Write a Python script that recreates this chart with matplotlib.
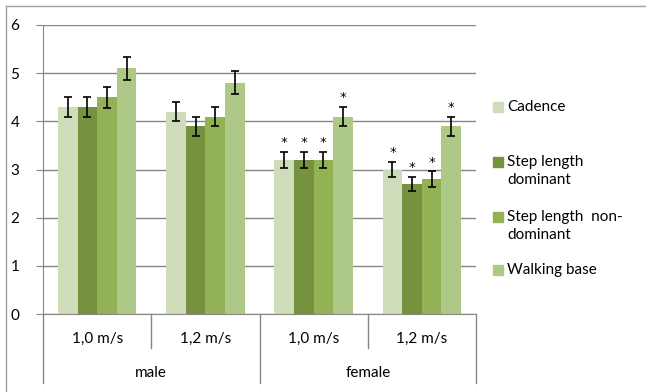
import numpy as np
import matplotlib
matplotlib.use("Agg")
from matplotlib import pyplot as plt
from matplotlib.patches import Rectangle
from matplotlib.lines import Line2D
import matplotlib.transforms as mtransforms

plt.rcParams['font.family'] = ['Lato', 'DejaVu Sans']

speeds = ['1,0 m/s', '1,2 m/s', '1,0 m/s', '1,2 m/s']
sexes = ['male', 'female']
series = ['Cadence', 'Step length\ndominant', 'Step length  non-\ndominant', 'Walking base']

cadence = [4.3, 4.2, 3.2, 3.0]
step_dom = [4.3, 3.9, 3.2, 2.7]
step_nondom = [4.5, 4.1, 3.2, 2.8]
walking = [5.1, 4.8, 4.1, 3.9]

err_cadence = [0.2, 0.2, 0.17, 0.16]
err_dom = [0.2, 0.2, 0.17, 0.14]
err_nondom = [0.22, 0.2, 0.17, 0.16]
err_walking = [0.24, 0.24, 0.2, 0.2]

# asterisk = significant difference (female groups)
sig_cadence = [False, False, True, True]
sig_dom = [False, False, True, True]
sig_nondom = [False, False, True, True]
sig_walking = [False, False, True, True]

colors = ['#CFDCB9', '#77923F', '#93B255', '#AEC887']

values = [cadence, step_dom, step_nondom, walking]
errors = [err_cadence, err_dom, err_nondom, err_walking]
sigs = [sig_cadence, sig_dom, sig_nondom, sig_walking]

W, H = 646, 392
fig = plt.figure(figsize=(W / 100, H / 100), dpi=100)
ax = fig.add_axes([43 / W, 1 - 314 / H, (476 - 43) / W, (314 - 25) / H])

grey = '#868686'
fs = 11
x = np.arange(len(speeds))
bw = 0.181
for k in range(4):
    pos = x + (k - 1.5) * bw
    ax.bar(pos, values[k], width=bw, color=colors[k], zorder=2)
    ax.errorbar(pos, values[k], yerr=errors[k], fmt='none', ecolor='black',
                elinewidth=1.2, capsize=3, capthick=1.2, zorder=3)
    for p, v, e, s in zip(pos, values[k], errors[k], sigs[k]):
        if s:
            ax.annotate('*', xy=(p, v + e), xytext=(0, 2), textcoords='offset points',
                        ha='center', va='bottom', fontsize=9.5, family='DejaVu Sans')

ax.set_xlim(-0.5, 3.5)
ax.set_ylim(0, 6)
ax.set_yticks(range(7))
ax.yaxis.grid(True, color=grey, linewidth=1, zorder=0)
ax.set_axisbelow(True)
ax.tick_params(axis='y', length=5, color=grey, pad=12, labelsize=fs)
ax.tick_params(axis='x', length=0, labelbottom=False)
for s in ['top', 'right']:
    ax.spines[s].set_visible(False)
for s in ['left', 'bottom']:
    ax.spines[s].set_color(grey)

# two-level category axis
tr = mtransforms.blended_transform_factory(ax.transData, ax.transAxes)
for i, sp in enumerate(speeds):
    ax.text(i, -0.087, sp, transform=tr, ha='center', va='center', fontsize=fs)
for j, sx in enumerate(sexes):
    ax.text(2 * j + 0.5, -0.204, sx, transform=tr, ha='center', va='center', fontsize=fs)
for b in [-0.5, 0.5, 1.5, 2.5, 3.5]:
    depth = -0.239 if b in (-0.5, 1.5, 3.5) else -0.118
    ax.add_line(Line2D([b, b], [0, depth], transform=tr, color=grey, linewidth=1, clip_on=False))

# legend
leg_rows = [107, 162, 217, 270]
for k in range(4):
    yc = 1 - leg_rows[k] / H
    fig.patches.append(Rectangle((493 / W, yc - 5 / H), 10 / W, 10 / H,
                                 transform=fig.transFigure, color=colors[k]))
    fig.text(507 / W, yc + 7 / H, series[k], ha='left', va='top', fontsize=fs,
             linespacing=1.35)

# chart border (top and left visible)
fig.add_artist(Line2D([6 / W, 1], [1 - 6 / H, 1 - 6 / H], transform=fig.transFigure, color='#A0A0A0', linewidth=1))
fig.add_artist(Line2D([6 / W, 6 / W], [0, 1 - 6 / H], transform=fig.transFigure, color='#A0A0A0', linewidth=1))

fig.savefig('out.png', dpi=100)
